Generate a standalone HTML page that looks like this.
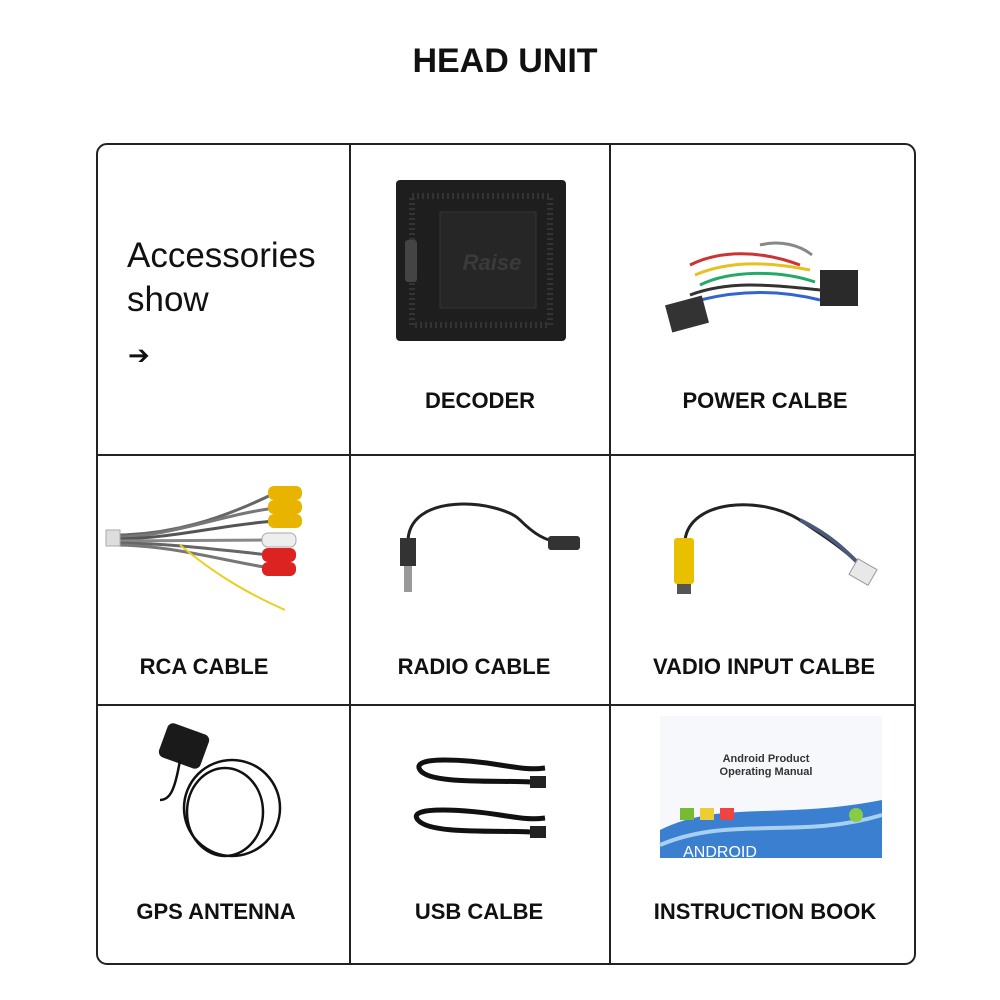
<!DOCTYPE html>
<html><head><meta charset="utf-8">
<style>
html,body{margin:0;padding:0;background:#fff;}
body{width:1000px;height:1000px;position:relative;overflow:hidden;font-family:"Liberation Sans",sans-serif;}
.t{position:absolute;font-weight:bold;color:#111;white-space:nowrap;transform:translateX(-50%);}
.lab{font-size:22px;}
</style></head><body>
<div class="t" style="left:505px;top:42px;font-size:34px;">HEAD UNIT</div>
<svg width="1000" height="1000" style="position:absolute;left:0;top:0">
 <rect x="97" y="144" width="818" height="820" rx="10" fill="none" stroke="#222" stroke-width="2"/>
 <line x1="350" y1="144" x2="350" y2="964" stroke="#222" stroke-width="2"/>
 <line x1="610" y1="144" x2="610" y2="964" stroke="#222" stroke-width="2"/>
 <line x1="97" y1="455" x2="915" y2="455" stroke="#222" stroke-width="2"/>
 <line x1="97" y1="705" x2="915" y2="705" stroke="#222" stroke-width="2"/>
 <rect x="396" y="180" width="170" height="161" rx="4" fill="#1e1e1e"/>
 <rect x="412" y="196" width="138" height="129" fill="none" stroke="#333" stroke-width="6" stroke-dasharray="2 3"/>
 <rect x="440" y="212" width="96" height="96" fill="#262626" stroke="#333"/>
 <text x="492" y="270" font-family="Liberation Sans" font-style="italic" font-weight="bold" font-size="22" fill="#3a3a3a" text-anchor="middle">Raise</text>
 <rect x="405" y="240" width="12" height="42" rx="3" fill="#444"/>
 <g stroke-width="3" fill="none">
  <path d="M690 265 C720 250 760 250 800 265" stroke="#c33"/>
  <path d="M695 275 C730 260 770 262 810 270" stroke="#e8c020"/>
  <path d="M700 285 C730 270 780 270 815 282" stroke="#2a6"/>
  <path d="M690 295 C730 280 770 285 820 290" stroke="#333"/>
  <path d="M700 300 C740 290 780 290 820 300" stroke="#36c"/>
  <path d="M760 245 C780 240 800 245 812 255" stroke="#888"/>
 </g>
 <rect x="668" y="300" width="38" height="28" fill="#333" transform="rotate(-15 687 314)"/>
 <rect x="820" y="270" width="38" height="36" fill="#2a2a2a"/>
 <g fill="none" stroke-width="3">
  <path d="M115 535 C170 535 220 520 275 493" stroke="#666"/>
  <path d="M115 537 C170 537 220 515 275 508" stroke="#777"/>
  <path d="M115 539 C170 539 220 525 275 521" stroke="#555"/>
  <path d="M115 541 C170 541 220 540 270 540" stroke="#888"/>
  <path d="M115 543 C170 543 220 550 270 555" stroke="#666"/>
  <path d="M115 545 C170 545 220 560 270 568" stroke="#777"/>
  <path d="M180 545 C210 570 240 590 285 610" stroke="#e8d020" stroke-width="2"/>
 </g>
 <g fill="#e8b400"><rect x="268" y="486" width="34" height="14" rx="6"/><rect x="268" y="500" width="34" height="14" rx="6"/><rect x="268" y="514" width="34" height="14" rx="6"/></g>
 <g fill="#eee" stroke="#aaa"><rect x="262" y="533" width="34" height="14" rx="6"/></g>
 <g fill="#d22"><rect x="262" y="548" width="34" height="14" rx="6"/><rect x="262" y="562" width="34" height="14" rx="6"/></g>
 <rect x="106" y="530" width="14" height="16" fill="#ddd" stroke="#aaa"/>
 <path d="M408 545 C405 490 500 500 520 520 C535 535 545 540 560 543" fill="none" stroke="#222" stroke-width="3"/>
 <rect x="400" y="538" width="16" height="28" fill="#333"/>
 <rect x="404" y="566" width="8" height="26" fill="#999"/>
 <rect x="548" y="536" width="32" height="14" rx="3" fill="#333"/>
 <path d="M685 540 C690 500 760 495 800 520 C830 540 845 550 860 565" fill="none" stroke="#222" stroke-width="3"/>
 <path d="M800 520 C830 535 845 550 860 565" fill="none" stroke="#4a5a7a" stroke-width="4"/>
 <rect x="674" y="538" width="20" height="46" rx="3" fill="#e8c000"/>
 <rect x="677" y="584" width="14" height="10" fill="#555"/>
 <rect x="852" y="563" width="22" height="18" fill="#e8e8e8" stroke="#999" transform="rotate(30 863 572)"/>
 <rect x="162" y="728" width="44" height="36" rx="6" fill="#1a1a1a" transform="rotate(20 184 746)"/>
 <ellipse cx="232" cy="808" rx="48" ry="48" fill="none" stroke="#111" stroke-width="2.5"/>
 <ellipse cx="225" cy="812" rx="38" ry="44" fill="none" stroke="#111" stroke-width="2.5"/>
 <path d="M180 760 C175 790 170 800 160 800" fill="none" stroke="#111" stroke-width="2.5"/>
 <path d="M420 770 C410 755 470 760 500 765 C520 768 530 770 545 768 M420 770 C430 785 500 780 530 782" fill="none" stroke="#111" stroke-width="5"/>
 <path d="M418 820 C405 805 470 810 500 815 C520 818 530 820 545 818 M418 820 C430 835 500 830 530 832" fill="none" stroke="#111" stroke-width="5"/>
 <rect x="530" y="776" width="16" height="12" fill="#222"/><rect x="530" y="826" width="16" height="12" fill="#222"/>
 <rect x="660" y="716" width="222" height="142" fill="#f6f8fb"/>
 <path d="M660 830 C720 800 780 820 882 800 L882 858 L660 858 Z" fill="#3b7fd0"/>
 <path d="M660 845 C730 815 800 840 882 815" fill="none" stroke="#a8d0f0" stroke-width="4"/>
 <text x="766" y="762" font-family="Liberation Sans" font-weight="bold" font-size="11" fill="#333" text-anchor="middle">Android Product</text>
 <text x="766" y="775" font-family="Liberation Sans" font-weight="bold" font-size="11" fill="#333" text-anchor="middle">Operating Manual</text>
 <text x="720" y="857" font-family="Liberation Sans" font-size="16" fill="#fff" text-anchor="middle">ANDROID</text>
 <rect x="680" y="808" width="14" height="12" fill="#7b3"/><rect x="700" y="808" width="14" height="12" fill="#ec3"/><rect x="720" y="808" width="14" height="12" fill="#e44"/>
 <circle cx="856" cy="815" r="7" fill="#8c4"/>
</svg>
<div style="position:absolute;left:127px;top:234px;font-size:35px;line-height:44px;color:#111;">Accessories<br>show</div>
<div style="position:absolute;left:128px;top:340px;font-size:26px;color:#111;">➔</div>
<div class="t lab" style="left:480px;top:388px;">DECODER</div>
<div class="t lab" style="left:765px;top:388px;">POWER CALBE</div>
<div class="t lab" style="left:204px;top:654px;">RCA CABLE</div>
<div class="t lab" style="left:474px;top:654px;">RADIO CABLE</div>
<div class="t lab" style="left:764px;top:654px;">VADIO INPUT CALBE</div>
<div class="t lab" style="left:216px;top:899px;">GPS ANTENNA</div>
<div class="t lab" style="left:479px;top:899px;">USB CALBE</div>
<div class="t lab" style="left:765px;top:899px;">INSTRUCTION BOOK</div>
</body></html>
